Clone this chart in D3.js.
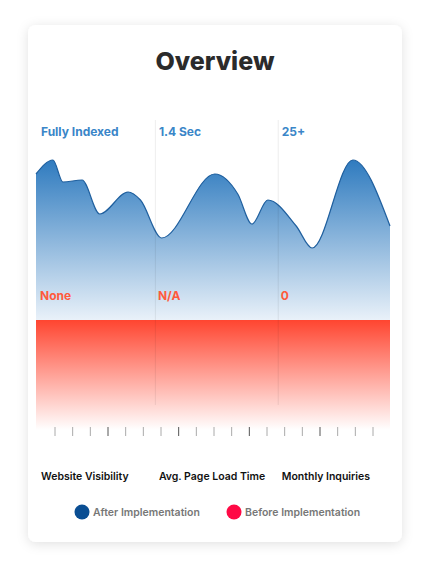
<!DOCTYPE html><html><head><meta charset="utf-8">
<script src="https://cdn.jsdelivr.net/npm/d3@7"></script>
<style>body{margin:0;background:#fff;font-family:Inter,"Noto Sans",sans-serif}</style></head><body>
<svg id="c" width="430" height="572"></svg>
<script>
const categories=["Website Visibility","Avg. Page Load Time","Monthly Inquiries"];
const afterLabels=["Fully Indexed","1.4 Sec","25+"];
const beforeLabels=["None","N/A","0"];
const legendLabels=["After Implementation","Before Implementation"];
const curveX=[0,4.8,7.6,13,18,26,29.5,35.5,50.5,57,61,65.5,73.5,78,89.5,100];
const curveY=[73,80,69,70,53,64,60,41,73,63,48,60,47,36,80,47];
const svg=d3.select("#c");
const defs=svg.append("defs");
const f=defs.append("filter").attr("id","sh").attr("x","-20%").attr("y","-20%").attr("width","140%").attr("height","140%");
f.append("feDropShadow").attr("dx",0).attr("dy",2).attr("stdDeviation",6).attr("flood-color","#000").attr("flood-opacity",0.12);
svg.append("rect").attr("x",28).attr("y",25).attr("width",374).attr("height",517).attr("rx",8).attr("fill","#fff").attr("filter","url(#sh)");
svg.append("text").attr("x",215).attr("y",70).attr("text-anchor","middle").attr("font-size",25).attr("font-weight",800).attr("fill","#2b2b2b").text("Overview");
const x=d3.scaleLinear().domain([0,100]).range([36,390]);
const y=d3.scaleLinear().domain([0,100]).range([320,120]);
const gb=defs.append("linearGradient").attr("id","gb").attr("x1",0).attr("y1",0).attr("x2",0).attr("y2",1);
gb.append("stop").attr("offset",0).attr("stop-color","#2f7bbf");
gb.append("stop").attr("offset",1).attr("stop-color","#e9f1f9");
const gr=defs.append("linearGradient").attr("id","gr").attr("x1",0).attr("y1",0).attr("x2",0).attr("y2",1);
gr.append("stop").attr("offset",0).attr("stop-color","#ff4530");
gr.append("stop").attr("offset",1).attr("stop-color","#fff").attr("stop-opacity",1);
const pts=curveX.map((v,i)=>[v,curveY[i]]);
svg.append("path").datum(pts).attr("fill","url(#gb)").attr("d",d3.area().x(d=>x(d[0])).y0(y(0)).y1(d=>y(d[1])).curve(d3.curveMonotoneX));
svg.append("path").datum(pts).attr("fill","none").attr("stroke","#1f5f9e").attr("stroke-width",1.2).attr("d",d3.line().x(d=>x(d[0])).y(d=>y(d[1])).curve(d3.curveMonotoneX));
svg.append("rect").attr("x",x(0)).attr("y",320).attr("width",x(100)-x(0)).attr("height",110).attr("fill","url(#gr)");
const gx=[0,33.3,68];
gx.slice(1).forEach(v=>svg.append("line").attr("x1",x(v)+1.5).attr("x2",x(v)+1.5).attr("y1",120).attr("y2",405).attr("stroke","#000").attr("stroke-opacity",0.07));
gx.forEach((v,i)=>{
 svg.append("text").attr("x",x(v)+5).attr("y",136).attr("font-size",12).attr("font-weight",700).attr("fill","#3a86c8").text(afterLabels[i]);
 svg.append("text").attr("x",x(v)+4).attr("y",300).attr("font-size",12).attr("font-weight",700).attr("fill","#ff5a3c").text(beforeLabels[i]);
 svg.append("text").attr("x",x(v)+5).attr("y",480).attr("font-size",10.5).attr("font-weight",600).attr("fill","#111").text(categories[i]);
});
const tx=d3.scaleLinear().domain([0,18]).range([55,373]);
d3.range(19).forEach(i=>{const dark=[3,7,11,15].includes(i);
 svg.append("line").attr("x1",tx(i)).attr("x2",tx(i)).attr("y1",427).attr("y2",436).attr("stroke",dark?"#555":"#aaa").attr("stroke-width",1);});
const lc=["#0a4e93","#ff0a45"],lx=[82,234];
legendLabels.forEach((t,i)=>{
 svg.append("circle").attr("cx",lx[i]).attr("cy",512).attr("r",7.5).attr("fill",lc[i]);
 svg.append("text").attr("x",lx[i]+11).attr("y",516).attr("font-size",10.5).attr("font-weight",600).attr("fill","#777").text(t);
});
</script></body></html>
